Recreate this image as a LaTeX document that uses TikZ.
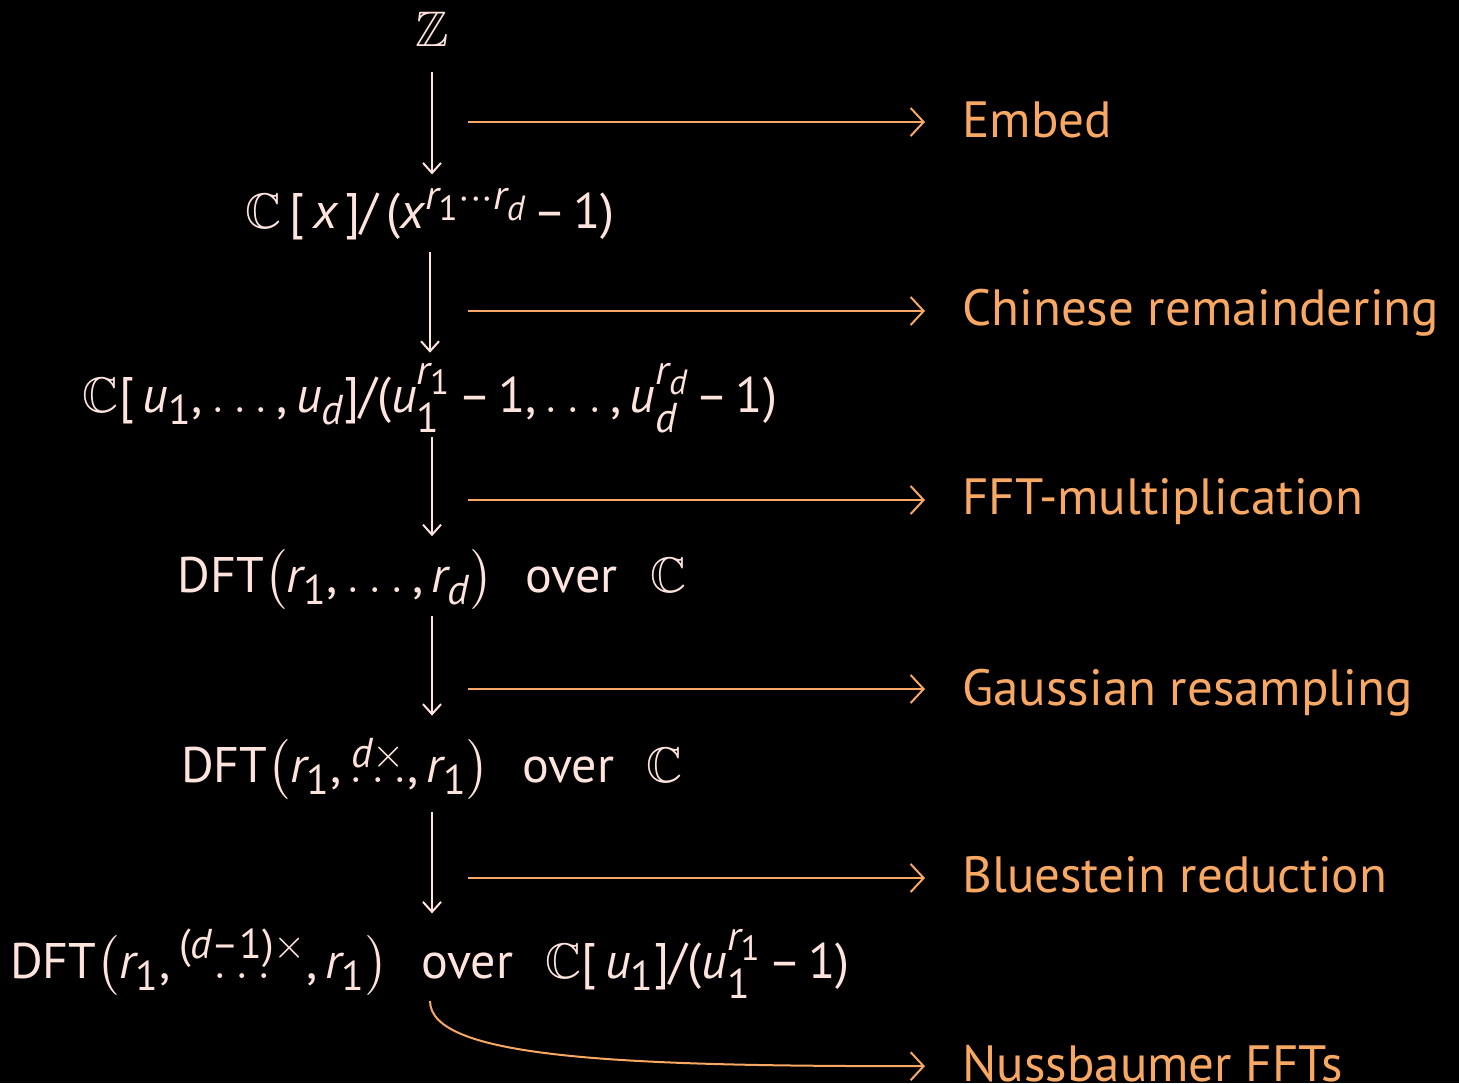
\documentclass[tikz,border=0pt]{standalone}
\usepackage{amsmath}
\usepackage{amssymb}
\usepackage{fontspec}
\setmainfont{PT Sans}
\usepackage[italic]{mathastext}
\usetikzlibrary{arrows.meta}
\definecolor{txt}{RGB}{255,228,222}
\definecolor{acc}{RGB}{248,168,98}
\newcommand{\tx}[1]{\text{#1}}
\newcommand{\gapo}{\hspace{0.65em}}
\newcommand{\tightops}{\medmuskip=2.5mu\relax}
\begin{document}
\begin{tikzpicture}[x=0.5pt,y=-0.5pt,
  math/.style={text=txt,font=\fontsize{25}{30}\selectfont\tightops,inner sep=0pt,anchor=base},
  lab/.style={text=acc,font=\fontsize{25.5}{30}\selectfont,inner sep=0pt,anchor=base west},
  down/.style={draw=txt,line width=1pt,-{Straight Barb[length=5pt,width=9pt]}},
  side/.style={draw=acc,line width=1pt,-{Straight Barb[length=6.5pt,width=14pt]},shorten >=18.5pt}]
\fill[black] (0,0) rectangle (1459,1083);
\useasboundingbox (0,0) rectangle (1459,1083);
% main column
\node[math] (z)  at (432,46)  {$\mathbb{Z}$};
\node[math] (r2) at (430,228) {$\mathbb{C}\,\tx{[}\,x\,\tx{]}\tx{/}\,\tx{(}x^{r_{\tx{1}}\cdots r_d}-\tx{1}\tx{)}$};
\node[math] (r3) at (430,412) {$\mathbb{C}\tx{[}\,u_{\tx{1}},\ldots,u_d\tx{]}\tx{/}\tx{(}u_{\tx{1}}^{r_{\tx{1}}}-\tx{1},\ldots,u_d^{r_d}-\tx{1}\tx{)}$};
\node[math] (r4) at (432,592) {DFT$\bigl(r_{\tx{1}},\ldots,r_d\bigr)$\gapo over\gapo$\mathbb{C}$};
\node[math] (r5) at (432,782) {DFT$\bigl(r_{\tx{1}},\overset{d\times}{\ldots},r_{\tx{1}}\bigr)$\gapo over\gapo$\mathbb{C}$};
\node[math] (r6) at (430,978) {DFT$\bigl(r_{\tx{1}},\overset{\tx{(}d-\tx{1}\tx{)}\times}{\ldots},r_{\tx{1}}\bigr)$\gapo over\gapo$\mathbb{C}\tx{[}\,u_{\tx{1}}\tx{]}\tx{/}\tx{(}u_{\tx{1}}^{r_{\tx{1}}}-\tx{1}\tx{)}$};
% labels
\node[lab] (l1) at (962,137)  {Embed};
\node[lab] (l2) at (962,325)  {Chinese remaindering};
\node[lab] (l3) at (962,514)  {FFT-multiplication};
\node[lab] (l4) at (962,705)  {Gaussian resampling};
\node[lab] (l5) at (962,892)  {Bluestein reduction};
\node[lab] (l6) at (962,1081) {Nussbaumer FFTs};
% vertical arrows
\draw[down,shorten <=13pt,shorten >=7pt] (z.south) -- (z.south |- r2.north);
\draw[down,shorten <=6pt,shorten >=5pt] (r2.south) -- (r2.south |- r3.north);
\draw[down,shorten <=2pt,shorten >=6.5pt] (r3.south -| z) -- (z |- r4.north);
\draw[down,shorten <=3pt,shorten >=8.5pt] (r4.south) -- (r4.south |- r5.north);
\draw[down,shorten <=6pt,shorten >=5pt] (r5.south) -- (r5.south |- r6.north);
% side arrows
\coordinate (s1) at (468,122);
\coordinate (s2) at (468,311);
\coordinate (s3) at (468,500);
\coordinate (s4) at (468,689);
\coordinate (s5) at (468,878);
\draw[side] (s1) -- (l1.west |- s1);
\draw[side] (s2) -- (l2.west |- s2);
\draw[side] (s3) -- (l3.west |- s3);
\draw[side] (s4) -- (l4.west |- s4);
\draw[side] (s5) -- (l5.west |- s5);
\draw[side,shorten >=0pt,shorten <=1pt] (r6.south) .. controls +(0,60) and +(-300,0) .. ([xshift=-18.5pt,yshift=-1.5pt]l6.west);
\end{tikzpicture}
\end{document}
